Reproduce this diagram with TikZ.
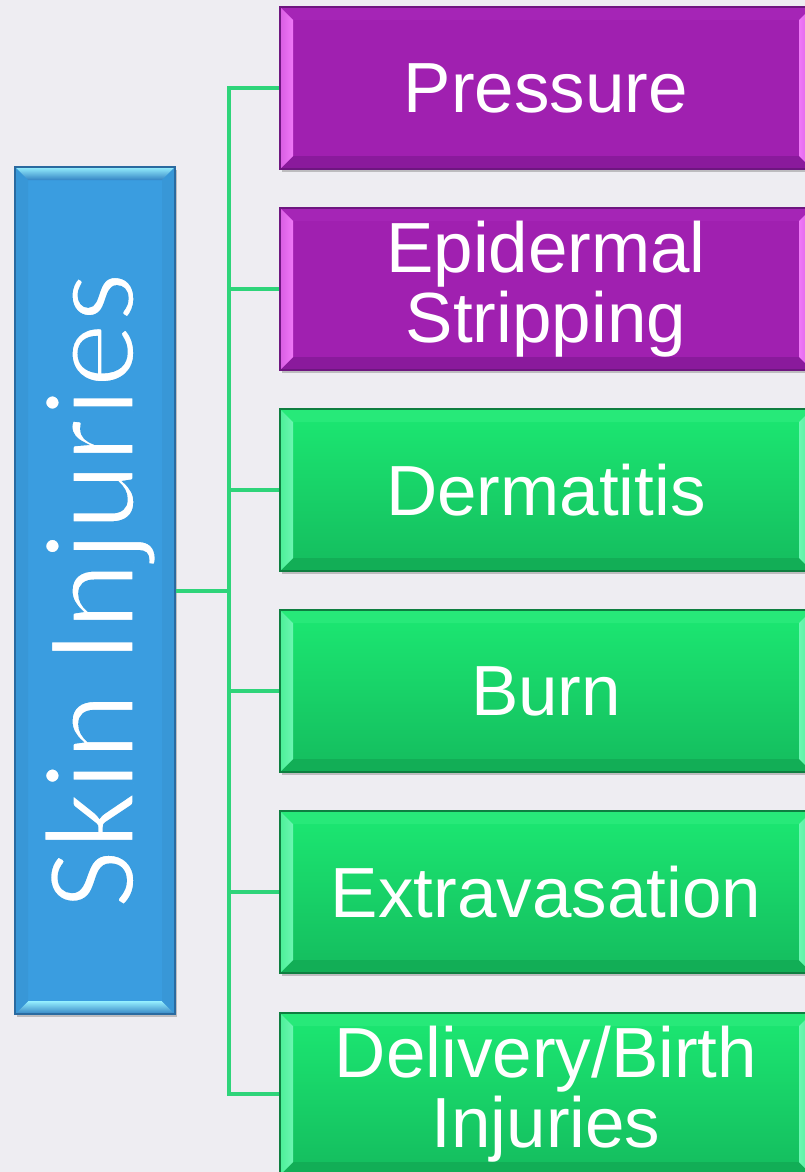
\documentclass[tikz,border=0pt]{standalone}
\usepackage{fontspec}
\setmainfont{Liberation Sans}
\newfontfamily\rootfont{Carlito}
\usetikzlibrary{shadows,calc}
\definecolor{bg}{HTML}{EEEDF2}
\definecolor{conngreen}{HTML}{2ED47A}
\definecolor{purpleface}{HTML}{A020B0}
\definecolor{purpleedge}{HTML}{6E1680}
\definecolor{purpletop}{HTML}{A525B6}
\definecolor{purplebot}{HTML}{8A1A9C}
\definecolor{purplelight}{HTML}{F078F8}
\definecolor{greentop}{HTML}{1CE872}
\definecolor{greenbot}{HTML}{14BC5E}
\definecolor{greenedge}{HTML}{0E7E40}
\definecolor{greenlight}{HTML}{6CF6B2}
\definecolor{greenbev}{HTML}{12AE56}
\definecolor{rootblue}{HTML}{3A9DE0}
\definecolor{rootedge}{HTML}{2A6AA0}
\definecolor{rootlight}{HTML}{96F0FF}
\definecolor{rootdark}{HTML}{3484C4}
\newcommand\thinglyphs[1]{\special{pdf:code q 2 Tr 0.227 0.616 0.878 RG 3.2 w}#1\special{pdf:code Q}}
\tikzset{
  bevel/.style n args={4}{path picture={
    \path (path picture bounding box.north west) coordinate (pNW)
          (path picture bounding box.north east) coordinate (pNE)
          (path picture bounding box.south west) coordinate (pSW)
          (path picture bounding box.south east) coordinate (pSE);
    \path[#1] (pNW) -- (pNE) -- ($(pNE)+(-13,13)$) -- ($(pNW)+(13,13)$) -- cycle;
    \path[#2] (pSW) -- (pSE) -- ($(pSE)+(-13,-13)$) -- ($(pSW)+(13,-13)$) -- cycle;
    \path[#3] (pNW) -- ($(pNW)+(13,13)$) -- ($(pSW)+(13,-13)$) -- (pSW) -- cycle;
    \path[#4] (pNE) -- ($(pNE)+(-13,13)$) -- ($(pSE)+(-13,-13)$) -- (pSE) -- cycle;
  }},
  shad/.style={drop shadow={shadow xshift=2pt, shadow yshift=-3pt, opacity=.3, fill=black!70}},
  child/.style={shad, line width=1.2pt, minimum width=532pt, minimum height=162pt,
    inner sep=0pt, font=\fontsize{71}{70}\selectfont, text=white, align=center},
  purplebox/.style={child, fill=purpleface, draw=purpleedge,
    bevel={fill=purpletop}{fill=purplebot}{left color=purplelight!70!purpleface, right color=purplelight}{left color=purplelight, right color=purplelight!70!purpleface}},
  greenbox/.style={child, top color=greentop, bottom color=greenbot, draw=greenedge,
    bevel={fill=greentop!95!white}{fill=greenbev}{left color=greenlight!60!greentop, right color=greenlight}{left color=greenlight, right color=greenlight!60!greentop}},
  rootbox/.style={shad, line width=1.2pt, minimum width=160pt, minimum height=847pt,
    inner sep=0pt, fill=rootblue, draw=rootedge, text=white,
    font=\rootfont\fontsize{130}{130}\selectfont,
    bevel={top color=rootlight, bottom color=rootdark}{top color=rootlight, bottom color=rootdark}{fill=rootblue!96!black}{fill=rootblue!96!black}},
  conn/.style={draw=conngreen, line width=4pt}
}
\begin{document}
\begin{tikzpicture}[x=1pt,y=-1pt]
\useasboundingbox (0,0) rectangle (805,1172);
\fill[bg] (0,0) rectangle (805,1172);
\coordinate (sp) at (229,0);
\node[rootbox] (root) at (95,590.5) {\rotatebox{90}{\raisebox{-5pt}[\height][\depth]{\thinglyphs{Skin Injuries}}}};
\node[purplebox] (b1) at (546,88) {Pressure};
\node[purplebox] (b2) at (546,289) {Epidermal\\Stripping};
\node[greenbox] (b3) at (546,490) {Dermatitis};
\node[greenbox] (b4) at (546,691) {Burn};
\node[greenbox] (b5) at (546,892) {Extravasation};
\node[greenbox] (b6) at (546,1094) {Delivery/Birth\\Injuries};
\draw[conn] (root.east) -- (root.east -| sp);
\draw[conn] (b1.west) -- (b1.west -| sp) -- (b6.west -| sp) -- (b6.west);
\foreach \i in {2,3,4,5}{\draw[conn] (b\i.west -| sp) -- (b\i.west);}
\end{tikzpicture}
\end{document}
